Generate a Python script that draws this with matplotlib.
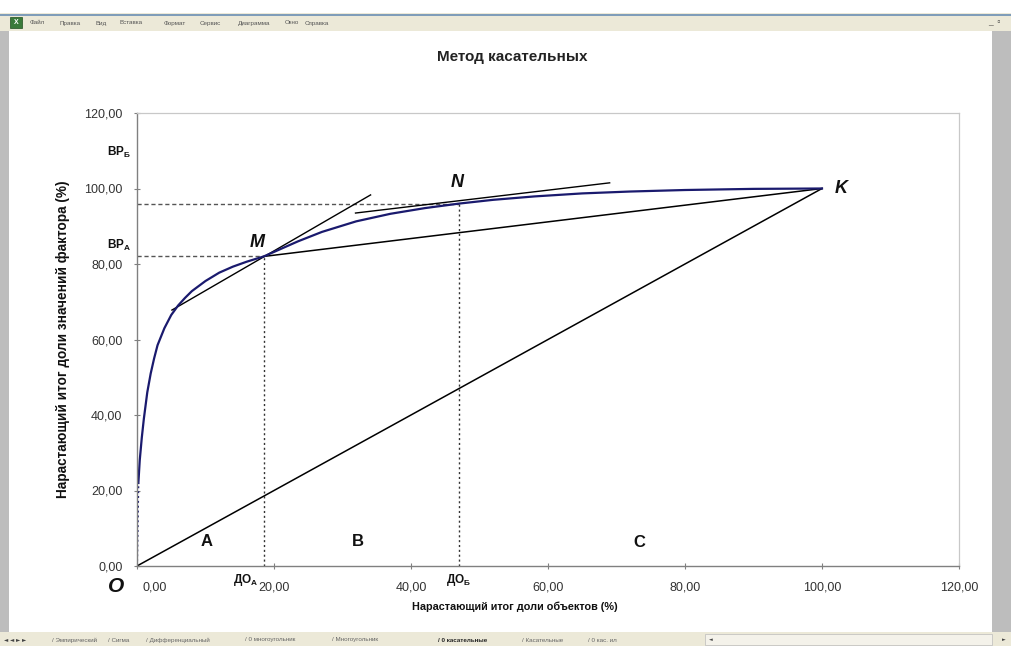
import matplotlib
matplotlib.use("Agg")
import matplotlib.pyplot as plt
from matplotlib.patches import Rectangle
from matplotlib.ticker import FuncFormatter
import matplotlib.transforms as mtransforms

plt.rcParams['font.family'] = ['Liberation Sans', 'DejaVu Sans']

# ---------------- data ----------------
curve_x = [0, 0.1, 0.2, 0.4, 0.7, 1.0, 1.5, 2.0, 2.5, 3.0, 4.0, 5.0, 6.0, 7.0, 8.0, 10.0,
           12.0, 14.0, 16.0, 18.5, 21.0, 23.5, 27.0, 32.0, 37.0, 42.0, 47.0, 52.0, 58.0,
           65.0, 72.0, 80.0, 90.0, 100.0]
curve_y = [0, 10, 22, 28, 34, 39, 46, 51, 55, 58.5, 63, 66.5, 69, 71, 72.8, 75.5,
           77.7, 79.3, 80.6, 82, 84, 86, 88.5, 91.3, 93.3, 94.8, 96, 97, 97.9,
           98.7, 99.2, 99.6, 99.9, 100]
diag_x = [0, 100]
diag_y = [0, 100]
point_M = (18.5, 82.0)
point_N = (47.0, 96.0)
point_K = (100.0, 100.0)
tangent_M_x = [5.1, 34.1]
tangent_M_y = [67.8, 98.3]
tangent_N_x = [31.9, 69.0]
tangent_N_y = [93.5, 101.5]
x_ticks = [0, 20, 40, 60, 80, 100, 120]
y_ticks = [0, 20, 40, 60, 80, 100, 120]
title = "Метод касательных"
xlabel = "Нарастающий итог доли объектов (%)"
ylabel = "Нарастающий итог доли значений фактора (%)"
menu_items = ["Файл", "Правка", "Вид", "Вставка", "Формат", "Сервис", "Диаграмма", "Окно", "Справка"]
menu_x = [30, 60, 96, 120, 164, 200, 238, 285, 305]
tab_items = ["Эмпирический", "Сигма", "Дифференциальный", "0 многоугольник", "Многоугольник",
             "0 касательные", "Касательные", "0 кас. ил"]
tab_x = [52, 108, 146, 245, 332, 438, 522, 588]

W, H = 1011, 646
fig = plt.figure(figsize=(W / 100, H / 100), dpi=100)
fig.patch.set_facecolor('white')


def fx(px):
    return px / W


def fy(py):
    return 1 - py / H


def frect(x0, y0, x1, y1, **kw):
    fig.patches.append(Rectangle((fx(x0), fy(y1)), fx(x1) - fx(x0), fy(y0) - fy(y1),
                                 transform=fig.transFigure, figure=fig, **kw))


# ---------------- Excel window chrome ----------------
frect(0, 13, W, 31, facecolor='#ece9d8', edgecolor='none', zorder=0)
frect(0, 14, W, 15.5, facecolor='#7f9db9', edgecolor='none', zorder=0)
frect(0, 31, 9, 632, facecolor='#bdbdbd', edgecolor='none', zorder=0)
frect(992, 31, W, 632, facecolor='#bdbdbd', edgecolor='none', zorder=0)
frect(0, 632, W, H, facecolor='#ece9d8', edgecolor='none', zorder=0)
frect(10, 17, 22, 28, facecolor='#3a7a3a', edgecolor='#1f4f1f', lw=0.5, zorder=1)
fig.text(fx(16), fy(22.5), "X", fontsize=5, color='white', ha='center', va='center', weight='bold')
for t, x in zip(menu_items, menu_x):
    fig.text(fx(x), fy(23), t, fontsize=4.5, color='#555555', ha='left', va='center')
fig.text(fx(988), fy(23), "_  ▫", fontsize=6, color='#333333', ha='left', va='center')
fig.text(fx(4), fy(640), "◄ ◄ ► ►", fontsize=4, color='#444444', ha='left', va='center',
         family=['DejaVu Sans'])
for t, x in zip(tab_items, tab_x):
    bold = t == "0 касательные"
    fig.text(fx(x), fy(640), "/ " + t, fontsize=4.5, color='#222222' if bold else '#666666',
             ha='left', va='center', weight='bold' if bold else 'normal')
frect(705, 634, 992, 645, facecolor='#f4f2ea', edgecolor='#bbbbbb', lw=0.5, zorder=0)
fig.text(fx(709), fy(640), "◄", fontsize=3.5, color='#444444', va='center', family=['DejaVu Sans'])
fig.text(fx(1002), fy(640), "►", fontsize=3.5, color='#444444', va='center', family=['DejaVu Sans'])

# ---------------- chart ----------------
ax = fig.add_axes([fx(137), fy(566), fx(959) - fx(137), fy(113) - fy(566)])
ax.set_xlim(0, 120)
ax.set_ylim(0, 120)
ax.set_facecolor('white')
for s in ['left', 'bottom']:
    ax.spines[s].set_color('#808080')
    ax.spines[s].set_linewidth(1.0)
for s in ['top', 'right']:
    ax.spines[s].set_color('#c8c8c8')
    ax.spines[s].set_linewidth(0.9)

ax.set_xticks(x_ticks)
ax.set_yticks(y_ticks)
fmt = FuncFormatter(lambda v, p: f"{v:.2f}".replace('.', ','))
ax.xaxis.set_major_formatter(fmt)
ax.yaxis.set_major_formatter(fmt)
ax.tick_params(axis='both', direction='inout', length=5, width=0.8, color='#808080',
               labelsize=9, labelcolor='#333333')
ax.tick_params(axis='x', pad=9)
ax.tick_params(axis='y', pad=8)

# shift first x label right
lbl0 = ax.get_xticklabels()[0]
lbl0.set_transform(lbl0.get_transform() + mtransforms.ScaledTranslation(18 / 100, 0, fig.dpi_scale_trans))

# guides
ax.plot([0, point_M[0]], [point_M[1], point_M[1]], color='#555555', lw=1.0, ls=(0, (3, 2)))
ax.plot([0, point_N[0]], [point_N[1], point_N[1]], color='#555555', lw=1.0, ls=(0, (3, 2)))
ax.plot([point_M[0], point_M[0]], [0, point_M[1]], color='#333333', lw=1.0, ls=(0, (1.5, 2)))
ax.plot([point_N[0], point_N[0]], [0, point_N[1]], color='#333333', lw=1.0, ls=(0, (1.5, 2)))

# straight lines
ax.plot(diag_x, diag_y, color='black', lw=1.1)
ax.plot([point_M[0], point_K[0]], [point_M[1], point_K[1]], color='black', lw=1.1)
ax.plot(tangent_M_x, tangent_M_y, color='black', lw=1.0)
ax.plot(tangent_N_x, tangent_N_y, color='black', lw=1.0)

# curve
ax.plot(curve_x[:3], curve_y[:3], color='#1a1a6e', lw=1.4, ls=(0, (1, 1.5)))
ax.plot(curve_x[2:], curve_y[2:], color='#1a1a6e', lw=1.6, solid_joinstyle='round')

# titles and axis labels
fig.text(fx(512), fy(57), title, fontsize=11, weight='bold', ha='center', va='center', color='#222222')
fig.text(fx(515), fy(607), xlabel, fontsize=7.8, weight='bold', ha='center', va='center', color='#111111')
fig.text(fx(63), fy(339), ylabel, fontsize=9.8, weight='bold', ha='center', va='center',
         rotation=90, color='#111111')

kw = dict(weight='bold', ha='center', va='center', clip_on=False, color='#111111')
ax.text(17.5, 85.8, "M", fontsize=13, style='italic', **kw)
ax.text(46.7, 101.7, "N", fontsize=13, style='italic', **kw)
ax.text(102.8, 100.1, "K", fontsize=13, style='italic', **kw)
ax.text(-3.1, -5.3, "O", fontsize=15, style='italic', **kw)
ax.text(10.1, 6.4, "A", fontsize=12, **kw)
ax.text(32.3, 6.4, "B", fontsize=12, **kw)
ax.text(73.4, 6.1, "C", fontsize=12, **kw)
ax.text(-2.6, 109.5, "BP$_{\\mathregular{Б}}$", fontsize=8.5, **kw)
ax.text(-2.6, 85.0, "BP$_{\\mathregular{A}}$", fontsize=8.5, **kw)
ax.text(15.8, -3.6, "ДО$_{\\mathregular{A}}$", fontsize=8.5, **kw)
ax.text(46.9, -3.6, "ДО$_{\\mathregular{Б}}$", fontsize=8.5, **kw)

fig.savefig("out.png", dpi=100, facecolor='white')
